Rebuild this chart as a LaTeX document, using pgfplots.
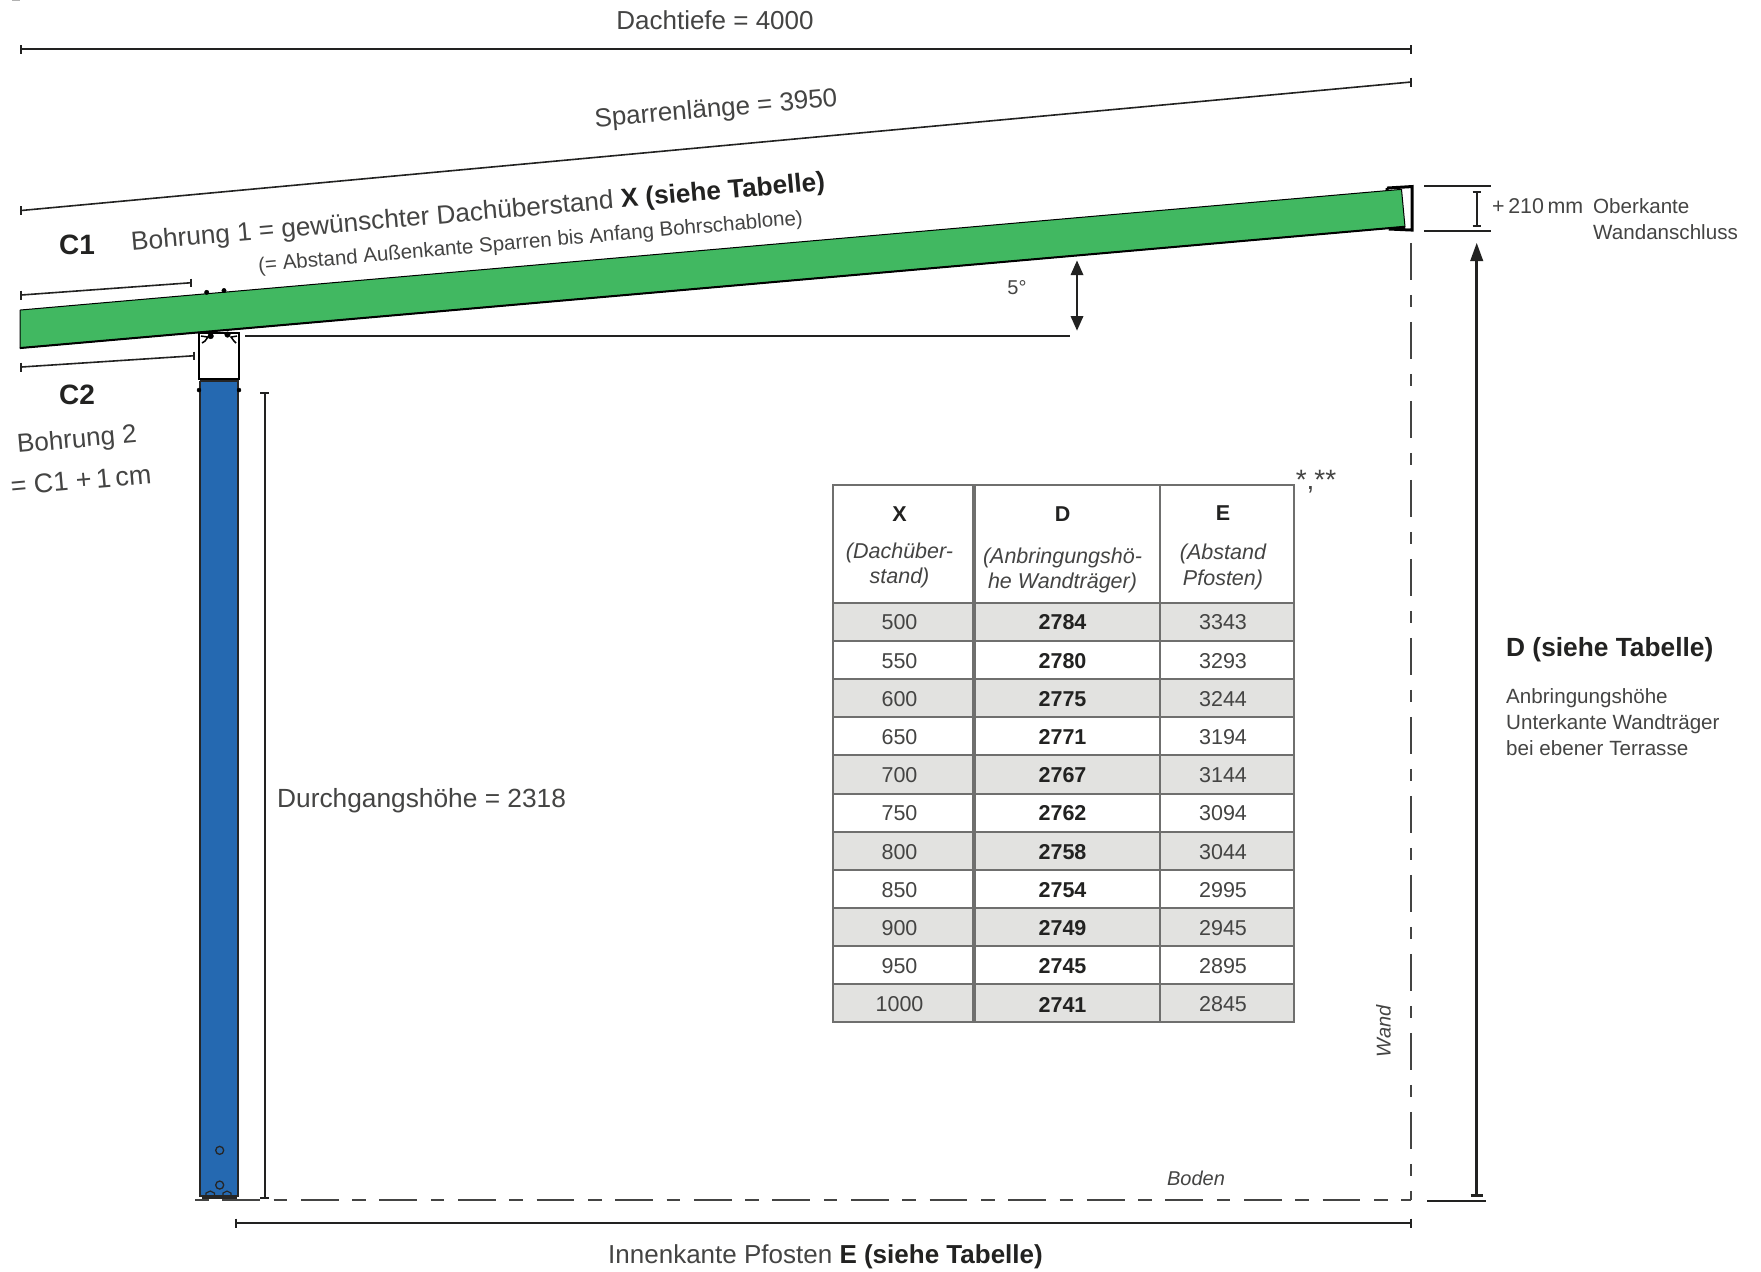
\documentclass[border=0pt]{standalone}
\usepackage{fontspec}
\setmainfont{Liberation Sans}
\usepackage{pgfplots}
\pgfplotsset{compat=1.18}
\definecolor{ink}{HTML}{444443}
\definecolor{dark}{HTML}{222221}
\definecolor{beam}{HTML}{41B861}
\definecolor{post}{HTML}{2569B1}
\definecolor{grid}{HTML}{6F6F6E}
\definecolor{shade}{HTML}{E2E2E0}
\newcommand\fs[1]{\fontsize{#1}{#1}\selectfont}
\tikzset{txt/.style={text=ink, inner sep=0pt}}
\begin{document}
\begin{tikzpicture}
\begin{axis}[
  width=1761pt, height=1271pt, scale only axis,
  xmin=0, xmax=1761, ymin=0, ymax=1271, y dir=reverse,
  hide axis, clip=false,
  dim/.style={color=dark, line width=2pt},
  thin dim/.style={color=dark, line width=1.6pt},
  rule/.style={color=grid, line width=2pt},
  wall/.style={color=ink, line width=1.6pt},
  cell/.style={draw=none, fill=shade},
  vals/.style={only marks, mark=none, point meta=explicit symbolic,
    nodes near coords, nodes near coords align={center},
    every node near coord/.append style={inner sep=0pt, anchor=center, text=ink, font=\fs{21.5}}},
]
% page extent
\addplot[draw=none, fill=white] coordinates {(0,0) (1761,0) (1761,1271) (0,1271) (0,0)};
\addplot[color=gray!60, line width=1.5pt] coordinates {(12,0.7) (20,0.7)};

% overall dimensions
\addplot[dim] coordinates {(20.7,49.3) (1410.7,49.3)};
\addplot[dim] coordinates {(20.7,45) (20.7,54)};
\addplot[dim] coordinates {(1410.7,45) (1410.7,54)};
\addplot[thin dim] coordinates {(20.7,210.5) (1410.7,82)};
\addplot[dim] coordinates {(20.7,206) (20.7,215)};
\addplot[dim] coordinates {(1410.7,77.5) (1410.7,86.5)};

% C1, C2
\addplot[thin dim] coordinates {(20.7,295) (191,282.7)};
\addplot[dim] coordinates {(20.7,290.5) (20.7,299.5)};
\addplot[dim] coordinates {(191,278.5) (191,287)};
\addplot[thin dim] coordinates {(20.7,367) (194,355.7)};
\addplot[dim] coordinates {(20.7,362.5) (20.7,371.5)};
\addplot[dim] coordinates {(194,351.5) (194,360)};

% wall bracket
\addplot[fill=white, draw=black, line width=3pt] coordinates {(1387,188) (1412,186.5) (1412,230) (1390,229) (1387,188)};
\addplot[fill=white, draw=none] coordinates {(1402,190) (1409.5,189) (1410,228) (1405,228) (1402,190)};

% rafter
\addplot[fill=beam, draw=black, line width=1pt] coordinates {(20,310) (1401.5,189.3) (1405,226.7) (20,348) (20,310)};
\addplot[color=black, line width=2pt] coordinates {(20,348) (1405,226.7)};
\addplot[only marks, mark=*, mark size=2.2pt, color=black] coordinates {(206.7,292.3) (224,290.5)};

% post head
\addplot[fill=white, draw=black, line width=2.6pt] coordinates {(199,333) (239,333) (239,379) (199,379) (199,333)};
\addplot[color=black, line width=1.5pt] coordinates {(201,336) (208,337) (205,341) (202,343)};
\addplot[color=black, line width=1.5pt] coordinates {(237,336) (231,337) (234,341) (236,343)};
\addplot[only marks, mark=*, mark size=2.8pt, color=black] coordinates {(210.7,336) (227.5,334.5)};

% post
\addplot[fill=post, draw=black!85, line width=2.3pt] coordinates {(200,381) (238,381) (238,1196) (200,1196) (200,381)};
\addplot[only marks, mark=*, mark size=2pt, color=black] coordinates {(199,390) (239,390)};
\addplot[only marks, mark=o, mark size=4pt, mark options={draw=black!85, line width=1.3pt, fill=none}] coordinates {(219.7,1150.3) (219.7,1185)};
\addplot[color=black!85, line width=1.2pt] coordinates {(206,1196) (206,1193) (210.3,1191) (214.5,1193) (214.5,1196)};
\addplot[color=black!85, line width=1.2pt] coordinates {(223,1196) (223,1193) (227,1191) (231,1193) (231,1196)};
\addplot[color=black!85, line width=3pt] coordinates {(201.5,1197) (237,1197)};

% clear height
\addplot[thin dim] coordinates {(264.7,393.3) (264.7,1198)};
\addplot[dim] coordinates {(260.2,393.3) (269.2,393.3)};
\addplot[dim] coordinates {(260.2,1198) (269.2,1198)};

% roof pitch
\addplot[dim] coordinates {(245,336) (1070,336)};
\addplot[dim] coordinates {(1077,272) (1077,318)};
\addplot[fill=dark, draw=none] coordinates {(1077,260.5) (1083.5,275) (1070.5,275) (1077,260.5)};
\addplot[fill=dark, draw=none] coordinates {(1077,330.5) (1083.5,316) (1070.5,316) (1077,330.5)};

% + 210 mm
\addplot[dim] coordinates {(1424,186) (1491,186)};
\addplot[dim] coordinates {(1424,231) (1491,231)};
\addplot[thin dim] coordinates {(1476.7,191.7) (1476.7,225.7)};
\addplot[thin dim] coordinates {(1472.5,191.7) (1481,191.7)};
\addplot[thin dim] coordinates {(1472.5,225.7) (1481,225.7)};

% D arrow
\addplot[color=dark, line width=2.6pt] coordinates {(1476.7,258) (1476.7,1195.7)};
\addplot[fill=dark, draw=none] coordinates {(1476.7,243) (1483.3,261) (1470.1,261) (1476.7,243)};
\addplot[color=dark, line width=3pt] coordinates {(1470.7,1195.7) (1482.7,1195.7)};
\addplot[dim] coordinates {(1427,1201.3) (1486,1201.3)};

% wall and ground
\addplot[wall, dash pattern=on 37.5pt off 14.5pt on 12.5pt off 14.5pt] coordinates {(1410.7,242.7) (1410.7,1200)};
\addplot[wall, dash pattern=on 13.5pt off 13.7pt on 37.7pt off 13.7pt] coordinates {(195,1200) (1410.7,1200)};

% E dimension
\addplot[dim] coordinates {(236.3,1223.3) (1410.7,1223.3)};
\addplot[dim] coordinates {(236.3,1218.5) (236.3,1228)};
\addplot[dim] coordinates {(1410.7,1218.5) (1410.7,1228)};

% table shading
\addplot[cell] coordinates {(833,603) (1294,603) (1294,641) (833,641) (833,603)};
\addplot[cell] coordinates {(833,679.2) (1294,679.2) (1294,717.3) (833,717.3) (833,679.2)};
\addplot[cell] coordinates {(833,755.4) (1294,755.4) (1294,793.5) (833,793.5) (833,755.4)};
\addplot[cell] coordinates {(833,831.6) (1294,831.6) (1294,869.7) (833,869.7) (833,831.6)};
\addplot[cell] coordinates {(833,907.8) (1294,907.8) (1294,945.9) (833,945.9) (833,907.8)};
\addplot[cell] coordinates {(833,984) (1294,984) (1294,1022) (833,1022) (833,984)};
% table rules
\addplot[rule] coordinates {(833,485) (1294,485)};
\addplot[rule] coordinates {(833,603) (1294,603)};
\addplot[rule] coordinates {(833,641.1) (1294,641.1)};
\addplot[rule] coordinates {(833,679.2) (1294,679.2)};
\addplot[rule] coordinates {(833,717.3) (1294,717.3)};
\addplot[rule] coordinates {(833,755.4) (1294,755.4)};
\addplot[rule] coordinates {(833,793.5) (1294,793.5)};
\addplot[rule] coordinates {(833,831.6) (1294,831.6)};
\addplot[rule] coordinates {(833,869.7) (1294,869.7)};
\addplot[rule] coordinates {(833,907.8) (1294,907.8)};
\addplot[rule] coordinates {(833,945.9) (1294,945.9)};
\addplot[rule] coordinates {(833,984) (1294,984)};
\addplot[rule] coordinates {(833,1022) (1294,1022)};
\addplot[rule] coordinates {(833,484) (833,1023)};
\addplot[rule, line width=4.5pt] coordinates {(973.8,484) (973.8,1023)};
\addplot[rule] coordinates {(1160,484) (1160,1023)};
\addplot[rule] coordinates {(1294,484) (1294,1023)};

% table values
\addplot[vals] coordinates {(899.5,622.5) [500] (899.5,660.7) [550] (899.5,698.9) [600] (899.5,737.1) [650] (899.5,775.3) [700] (899.5,813.5) [750] (899.5,851.7) [800] (899.5,889.9) [850] (899.5,928.1) [900] (899.5,966.3) [950] (899.5,1004.5) [1000]};
\addplot[vals, every node near coord/.append style={font=\fs{21.5}\bfseries, text=dark}] coordinates {(1062.5,622.5) [2784] (1062.5,660.7) [2780] (1062.5,698.9) [2775] (1062.5,737.1) [2771] (1062.5,775.3) [2767] (1062.5,813.5) [2762] (1062.5,851.7) [2758] (1062.5,889.9) [2754] (1062.5,928.1) [2749] (1062.5,966.3) [2745] (1062.5,1004.5) [2741]};
\addplot[vals] coordinates {(1223,622.5) [3343] (1223,660.7) [3293] (1223,698.9) [3244] (1223,737.1) [3194] (1223,775.3) [3144] (1223,813.5) [3094] (1223,851.7) [3044] (1223,889.9) [2995] (1223,928.1) [2945] (1223,966.3) [2895] (1223,1004.5) [2845]};

% table head
\node[txt, text=dark, font=\fs{21.5}\bfseries] at (axis cs:899.5,514) {X};
\node[txt, font=\fs{21.5}\itshape] at (axis cs:899.5,553) {(Dachüber-};
\node[txt, font=\fs{21.5}\itshape] at (axis cs:899.5,578) {stand)};
\node[txt, text=dark, font=\fs{21.5}\bfseries] at (axis cs:1062.5,514) {D};
\node[txt, font=\fs{21.5}\itshape] at (axis cs:1062.5,558) {(Anbringungshö-};
\node[txt, font=\fs{21.5}\itshape] at (axis cs:1062.5,583) {he Wandträger)};
\node[txt, text=dark, font=\fs{21.5}\bfseries] at (axis cs:1223,513) {E};
\node[txt, font=\fs{21.5}\itshape] at (axis cs:1223,554) {(Abstand};
\node[txt, font=\fs{21.5}\itshape] at (axis cs:1223,580) {Pfosten)};
\node[txt, font=\fs{28}] at (axis cs:1316,481.5) {*,**};

% labels
\node[txt, font=\fs{26}] at (axis cs:715,20) {Dachtiefe = 4000};
\node[txt, font=\fs{26}, rotate=5] at (axis cs:716,110) {Sparrenlänge = 3950};
\node[txt, font=\fs{26.2}, rotate=5, anchor=base west] at (axis cs:131.7,250.7) {Bohrung 1 = gewünschter Dachüberstand \textbf{\textcolor{dark}{X (siehe Tabelle)}}};
\node[txt, font=\fs{20.5}, rotate=5, anchor=base west] at (axis cs:258.7,272) {(= Abstand Außenkante Sparren bis Anfang Bohrschablone)};
\node[txt, text=dark, font=\fs{28}\bfseries] at (axis cs:77,245) {C1};
\node[txt, text=dark, font=\fs{28}\bfseries] at (axis cs:77,394.5) {C2};
\node[txt, font=\fs{26}, rotate=5] at (axis cs:77,441) {Bohrung 2};
\node[txt, font=\fs{27}, rotate=5] at (axis cs:81,480) {= C1 +\,1\,cm};
\node[txt, font=\fs{26.3}, anchor=west] at (axis cs:277,801) {Durchgangshöhe = 2318};
\node[txt, font=\fs{20}] at (axis cs:1017,288) {5°};
\node[txt, font=\fs{21.4}, anchor=west] at (axis cs:1492,206) {+\,210\,mm};
\node[txt, font=\fs{20.6}, anchor=base west] at (axis cs:1593,213.5) {Oberkante};
\node[txt, font=\fs{20.6}, anchor=base west] at (axis cs:1593,239) {Wandanschluss};
\node[txt, text=dark, font=\fs{26.3}\bfseries, anchor=west] at (axis cs:1506,650) {D (siehe Tabelle)};
\node[txt, font=\fs{20.6}, anchor=base west] at (axis cs:1506,703.5) {Anbringungshöhe};
\node[txt, font=\fs{20.6}, anchor=base west] at (axis cs:1506,729) {Unterkante Wandträger};
\node[txt, font=\fs{20.6}, anchor=base west] at (axis cs:1506,755) {bei ebener Terrasse};
\node[txt, font=\fs{20}\itshape, rotate=90] at (axis cs:1383.5,1031) {Wand};
\node[txt, font=\fs{20}\itshape] at (axis cs:1196,1178) {Boden};
\node[txt, font=\fs{26}] at (axis cs:825.5,1257) {Innenkante Pfosten \textbf{\textcolor{dark}{E (siehe Tabelle)}}};
\end{axis}
\end{tikzpicture}
\end{document}
